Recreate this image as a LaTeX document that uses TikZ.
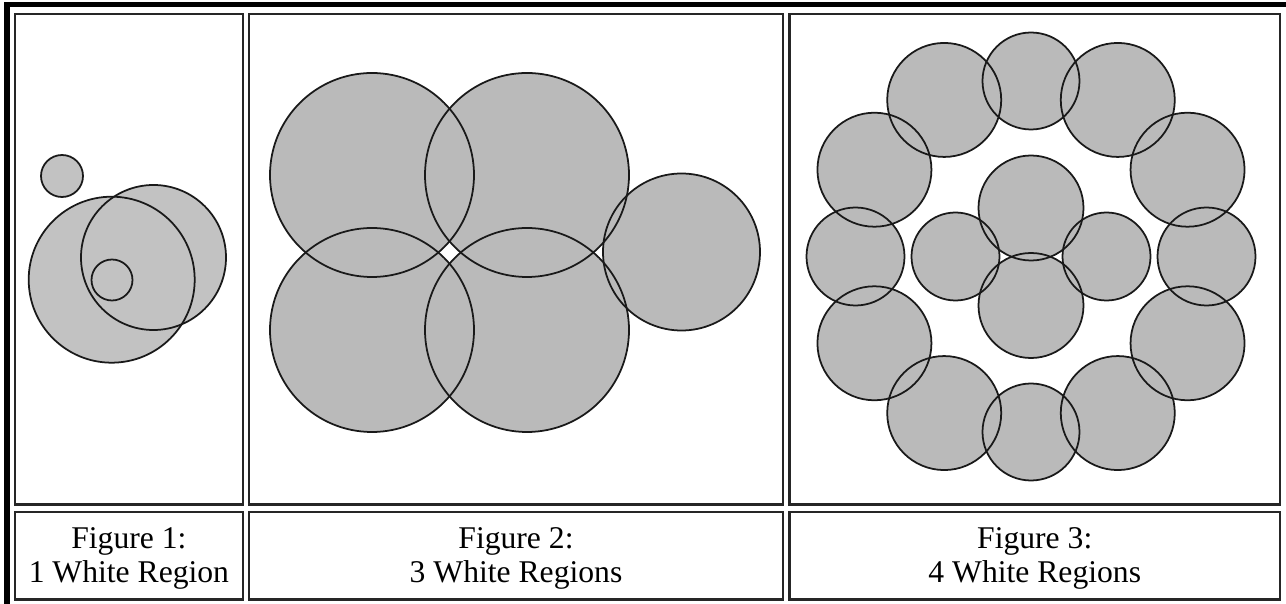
\documentclass[tikz,border=0pt]{standalone}
\usepackage{fontspec}
\setmainfont{Liberation Serif}
\begin{document}
\begin{tikzpicture}[x=0.02cm,y=0.02cm,font=\fontsize{18}{19.8}\selectfont,
		cell/.style={draw=black!85,line width=1.4pt},
		disc/.style={fill=black!24},
		dotdisc/.style={fill=black!27},
		rim/.style={draw=black!90,line width=1pt}]
	\useasboundingbox (0,0) rectangle (1286,-604);
	\path (6.7,-620) coordinate (F0) (6.7,-4.5) coordinate (F1) (1290,-4.5) coordinate (F2)
	(1031,-256.5) coordinate (O);
	\draw[line width=3.4pt] (F0)--(F1)--(F2);
	\foreach \xa/\xb in {14.8/243,249/783,789.5/1280}{
		\draw[cell] (\xa,-14) rectangle (\xb,-504.5);
		\draw[cell] (\xa,-512) rectangle (\xb,-599.5);
	}
	% figure 1 and figure 2
	\foreach \c/\r in {{62,-176}/21, {111.7,-279.7}/83, {153.5,-257.5}/72.5, {112,-280}/20.5}
		\fill[disc] (\c) circle (\r);
	\foreach \c/\r in {{372,-175}/102, {527,-175}/102, {372,-330}/102, {527,-330}/102, {681.5,-252}/78.5}
		\fill[dotdisc] (\c) circle (\r);
	\foreach \c/\r in {{62,-176}/21, {111.7,-279.7}/83, {153.5,-257.5}/72.5, {112,-280}/20.5,
		{372,-175}/102, {527,-175}/102, {372,-330}/102, {527,-330}/102, {681.5,-252}/78.5}
		\draw[rim] (\c) circle (\r);
	% figure 3, outer ring and inner group round O
	\def\ringlist{0/175.5/49, 29/179/57, 61/179/57, 90/175.5/48.5, 119/179/57, 151/179/57,
		180/175.5/49, 209/179/57, 241/179/57, 270/175.5/48.5, 299/179/57, 331/179/57,
		0/75.5/44, 90/48.5/52.5, 180/75.5/44, 270/49/52.5}
	\foreach \a/\d/\r in \ringlist
		\fill[dotdisc,shift={(O)}] (\a:\d) circle (\r);
	\foreach \a/\d/\r in \ringlist
		\draw[rim,shift={(O)}] (\a:\d) circle (\r);
	\node[align=center,inner sep=0] (cap1) at (128.9,-558.4) {Figure 1:\\1 White Region};
	\node[align=center,inner sep=0] (cap2) at (516,-558.4) {Figure 2:\\3 White Regions};
	\node[align=center,inner sep=0] (cap3) at (1034.75,-558.4) {Figure 3:\\4 White Regions};
\end{tikzpicture}
\end{document}
